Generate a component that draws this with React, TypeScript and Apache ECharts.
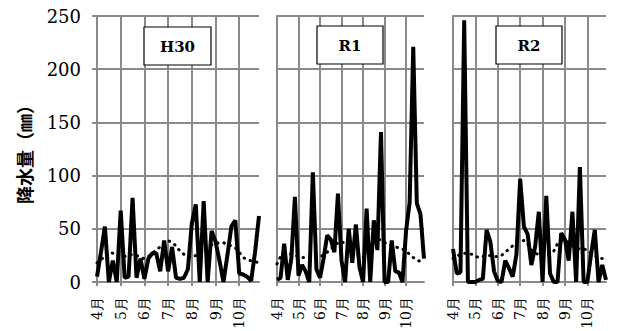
import React, { useEffect, useRef } from 'react';
import * as echarts from 'echarts';

// 半旬 (5-day) periods, April–October
const months = ['4月', '5月', '6月', '7月', '8月', '9月', '10月'];
const periods = months.flatMap((m) => [1, 2, 3, 4, 5, 6].map((k) => `${m}第${k}半旬`));

const panelNames = ['H30', 'R1', 'R2'];

// 降水量 (mm) per 半旬
const h30Rain = [5, 28, 52, 0, 20, 0, 67, 4, 5, 79, 4, 22, 3, 22, 27, 27, 10, 39, 10, 33, 4, 3, 4, 12, 55, 73, 0, 76, 0, 48, 38, 20, 0, 25, 52, 58, 8, 7, 5, 1, 28, 62];
const r1Rain = [2, 4, 36, 2, 22, 80, 6, 16, 10, 0, 103, 12, 4, 22, 44, 40, 28, 83, 20, 0, 50, 18, 54, 14, 0, 69, 0, 58, 30, 141, 0, 0, 39, 10, 9, 0, 48, 75, 221, 74, 64, 22];
const r2Rain = [31, 8, 9, 246, 0, 0, 0, 2, 3, 49, 38, 10, 1, 0, 20, 13, 5, 26, 97, 52, 45, 16, 33, 66, 0, 81, 8, 0, 0, 46, 40, 20, 66, 0, 108, 0, 0, 26, 49, 0, 16, 2];

// 平年値 (dotted)
const h30Normal = [18, 21, 24, 28, 27, 25, 24, 24, 25, 26, 25, 23, 22, 24, 27, 30, 33, 36, 39, 37, 34, 29, 26, 24, 23, 25, 28, 31, 33, 35, 36, 37, 37, 35, 34, 32, 28, 23, 21, 20, 19, 18];
const r1Normal = [17, 24, 27, 27, 26, 25, 24, 23, 23, 23, 23, 23, 23, 26, 28, 31, 34, 37, 38, 36, 33, 30, 27, 25, 23, 26, 32, 38, 41, 39, 37, 35, 34, 33, 32, 31, 29, 26, 23, 21, 19, 19];
const r2Normal = [22, 24, 26, 27, 27, 26, 24, 23, 24, 25, 25, 24, 24, 25, 28, 31, 34, 37, 38, 39, 36, 30, 27, 26, 25, 24, 26, 29, 36, 39, 39, 37, 34, 32, 31, 31, 30, 27, 25, 23, 22, 22];

const rainSets = [h30Rain, r1Rain, r2Rain];
const normalSets = [h30Normal, r1Normal, r2Normal];

const GRID_GRAY = '#8a8a8a';
const SERIF = 'DejaVu Serif';

export default function App() {
  const ref = useRef<HTMLDivElement>(null);

  useEffect(() => {
    if (!ref.current) return;
    const chart = echarts.init(ref.current, null, { renderer: 'svg' });

    const grids = [
      { left: 97, top: 16, width: 162, height: 266, outerBoundsMode: 'none', containLabel: false },
      { left: 277, top: 16, width: 147, height: 266, outerBoundsMode: 'none', containLabel: false },
      { left: 453, top: 16, width: 153, height: 266, outerBoundsMode: 'none', containLabel: false },
    ];
    const boxes = [
      { x: 144, y: 27, w: 67, h: 38 },
      { x: 317, y: 26, w: 66, h: 38 },
      { x: 496, y: 26, w: 66, h: 38 },
    ];

    const xAxes = grids.map((_, i) => ({
      type: 'category',
      gridIndex: i,
      data: periods,
      boundaryGap: false,
      axisLine: { show: true, lineStyle: { color: GRID_GRAY, width: 2 } },
      axisTick: { show: true, interval: 5, length: 4, lineStyle: { color: GRID_GRAY, width: 2 } },
      splitLine: { show: true, interval: 5, lineStyle: { color: GRID_GRAY, width: 2 } },
      axisLabel: {
        interval: 5,
        rotate: 90,
        margin: 15,
        color: '#000',
        fontSize: 14,
        fontFamily: SERIF,
        formatter: (v: string) => v.split('第')[0],
      },
    }));

    const yAxes = grids.map((_, i) => ({
      type: 'value',
      gridIndex: i,
      min: 0,
      max: 250,
      interval: 50,
      axisLine: { show: true, lineStyle: { color: GRID_GRAY, width: 2 } },
      axisTick: { show: i === 0, length: 5, lineStyle: { color: GRID_GRAY, width: 2 } },
      splitLine: { show: true, lineStyle: { color: GRID_GRAY, width: 2 } },
      axisLabel: {
        show: i === 0,
        margin: 16,
        fontSize: 18,
        color: '#000',
        fontFamily: SERIF,
      },
    }));

    const series: any[] = [];
    grids.forEach((_, i) => {
      series.push({
        name: `${panelNames[i]} 平年値`,
        type: 'line',
        xAxisIndex: i,
        yAxisIndex: i,
        data: normalSets[i],
        symbol: 'none',
        lineStyle: { color: '#000', width: 3, type: [0.5, 6], cap: 'round' },
        z: 2,
      });
      series.push({
        name: `${panelNames[i]} 降水量`,
        type: 'line',
        xAxisIndex: i,
        yAxisIndex: i,
        data: rainSets[i],
        symbol: 'none',
        lineStyle: { color: '#000', width: 4 },
        z: 3,
      });
    });

    const graphic: any[] = [];
    boxes.forEach((b, i) => {
      graphic.push({
        type: 'rect',
        shape: { x: b.x, y: b.y, width: b.w, height: b.h },
        style: { fill: '#fff', stroke: '#000', lineWidth: 1.2 },
        z: 10,
      });
      graphic.push({
        type: 'text',
        x: b.x + b.w / 2,
        y: b.y + b.h / 2 + 1,
        style: {
          text: panelNames[i],
          fontSize: 15,
          fontWeight: 'bold',
          fontFamily: SERIF,
          fill: '#000',
          align: 'center',
          verticalAlign: 'middle',
        },
        z: 11,
      });
    });
    graphic.push({
      type: 'text',
      x: 24,
      y: 150,
      rotation: Math.PI / 2,
      style: {
        text: '降水量（㎜）',
        fontSize: 18,
        fontWeight: 'bold',
        fontFamily: 'Noto Sans CJK JP',
        fill: '#000',
        align: 'center',
        verticalAlign: 'middle',
      },
    });

    chart.setOption({
      animation: false,
      backgroundColor: '#fff',
      textStyle: { fontFamily: SERIF },
      grid: grids,
      xAxis: xAxes,
      yAxis: yAxes,
      series,
      graphic,
    });

    return () => chart.dispose();
  }, []);

  return (
    <div
      ref={ref}
      style={{ position: 'fixed', left: 0, top: 0, width: 617, height: 331 }}
    />
  );
}
